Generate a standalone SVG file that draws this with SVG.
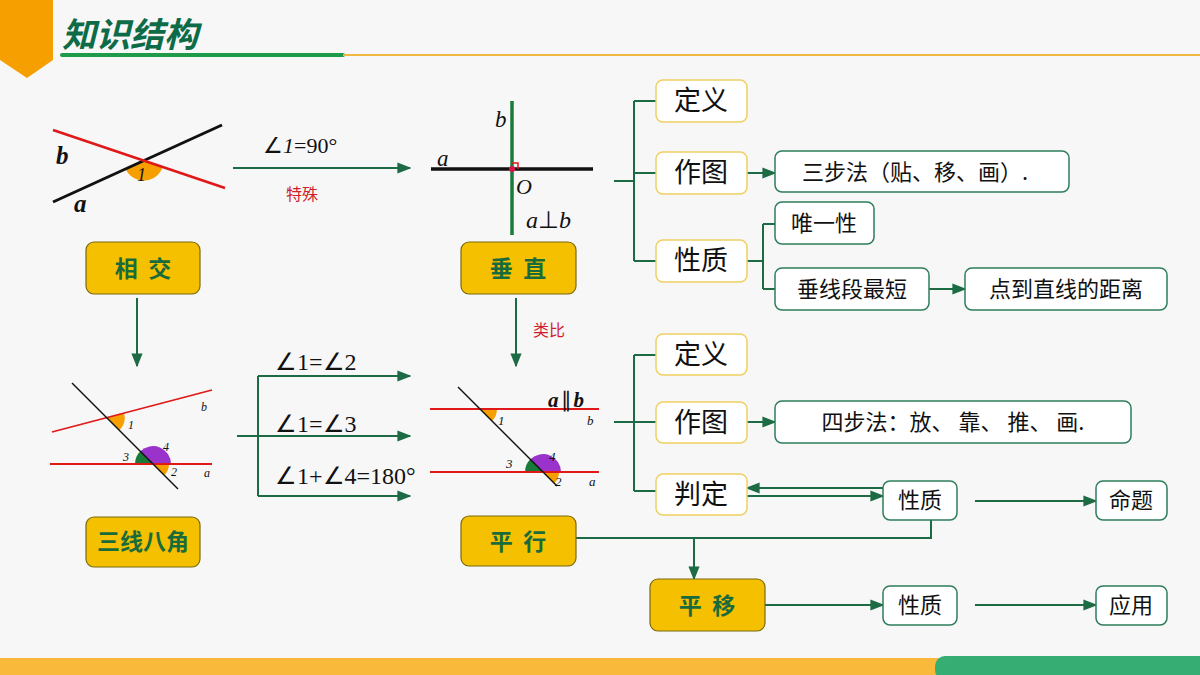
<svg xmlns="http://www.w3.org/2000/svg" width="1200" height="675" viewBox="0 0 1200 675">
<defs>
<marker id="ar" viewBox="0 0 10 10" refX="9" refY="5" markerWidth="7" markerHeight="7" orient="auto-start-reverse"><path d="M0,1 L10,5 L0,9 z" fill="#1d6b45"/></marker>
<style>
.cn{font-family:"Noto Sans CJK SC",sans-serif}
.yn{fill:#f5c000;stroke:#7a6a10;stroke-width:1.2}
.yt{font-family:"Noto Sans CJK SC",sans-serif;font-weight:bold;font-size:23px;fill:#1a6b3c;text-anchor:middle}
.ln{fill:#fff;stroke:#f0d060;stroke-width:1.5}
.gn{fill:#fff;stroke:#2e7d5b;stroke-width:1.5}
.nt{font-family:"Noto Sans CJK SC",sans-serif;font-size:27px;fill:#111;text-anchor:middle}
.st{font-family:"Noto Sans CJK SC",sans-serif;font-size:22px;fill:#111;text-anchor:middle}
.c{fill:none;stroke:#1d6b45;stroke-width:2}
.m{font-family:"Liberation Serif",serif;fill:#111}
.red{font-family:"Noto Sans CJK SC",serif;font-size:16px;fill:#d0202a}
</style>
</defs>
<rect width="1200" height="675" fill="#f7f7f7"/>
<path d="M0,0 H53 V60 L27,78 L0,60 Z" fill="#f5a000"/>
<text x="62" y="47" class="cn" font-size="34" font-weight="bold" font-style="italic" fill="#0e6b47">知识结构</text>
<rect x="60" y="53" width="285" height="4" rx="2" fill="#1f9a48"/>
<rect x="343" y="54" width="857" height="2" fill="#f0b840"/>
<rect x="0" y="658" width="960" height="17" fill="#f9b93a"/>
<rect x="935" y="656" width="300" height="24" rx="10" fill="#36ad73"/>

<g id="connectors">
<path class="c" d="M233,168 H410" marker-end="url(#ar)"/>
<path class="c" d="M137,298 V366" marker-end="url(#ar)"/>
<path class="c" d="M516,298 V366" marker-end="url(#ar)"/>
<path class="c" d="M237,436 H258 M258,376 V496"/>
<path class="c" d="M258,376 H410" marker-end="url(#ar)"/>
<path class="c" d="M258,436 H410" marker-end="url(#ar)"/>
<path class="c" d="M258,496 H410" marker-end="url(#ar)"/>
<path class="c" d="M614,181 H634 M634,101 V261 M634,101 H656 M634,173 H656 M634,261 H656"/>
<path class="c" d="M747,173 H775" marker-end="url(#ar)"/>
<path class="c" d="M747,261 H763 M763,224 V289 M763,224 H775 M763,289 H775"/>
<path class="c" d="M929,289 H965" marker-end="url(#ar)"/>
<path class="c" d="M614,422 H634 M634,355 V491 M634,355 H656 M634,422 H656 M634,491 H656"/>
<path class="c" d="M747,422 H775" marker-end="url(#ar)"/>
<path class="c" d="M883,488 H747" marker-end="url(#ar)"/>
<path class="c" d="M747,496 H883" marker-end="url(#ar)"/>
<path class="c" d="M975,501 H1096" marker-end="url(#ar)"/>
<path class="c" d="M931,520 V538 H576"/>
<path class="c" d="M694,538 V579" marker-end="url(#ar)"/>
<path class="c" d="M765,605 H883" marker-end="url(#ar)"/>
<path class="c" d="M975,605 H1096" marker-end="url(#ar)"/>
</g>
<text x="263" y="153" class="m" font-size="22">∠<tspan font-style="italic">1</tspan>=90°</text>
<text x="286" y="200" class="red">特殊</text>
<text x="533" y="336" class="red">类比</text>
<text x="275" y="370" class="m" font-size="24">∠1=∠2</text>
<text x="275" y="432" class="m" font-size="24">∠1=∠3</text>
<text x="275" y="484" class="m" font-size="24">∠1+∠4=180°</text>

<g id="fig1">
<path d="M143.8,160.6 L125.6,168.9 A20,20 0 0 0 162.7,167 Z" fill="#f5a000"/>
<line x1="53" y1="202" x2="222" y2="125" stroke="#111" stroke-width="3"/>
<line x1="53" y1="130" x2="225" y2="188" stroke="#e01818" stroke-width="2.5"/>
<text x="137" y="181" class="m" font-size="18" font-style="italic">1</text>
<text x="56" y="164" class="m" font-size="25" font-style="italic" font-weight="bold">b</text>
<text x="74" y="212" class="m" font-size="25" font-style="italic" font-weight="bold">a</text>
</g>
<g id="fig2">
<line x1="431" y1="169" x2="593" y2="169" stroke="#111" stroke-width="3.5"/>
<line x1="512" y1="101" x2="512" y2="235" stroke="#1a7a3a" stroke-width="3.5"/>
<path d="M512,163 H518 V169" fill="none" stroke="#e01818" stroke-width="1.5"/>
<circle cx="512" cy="169" r="3" fill="#e0104a"/>
<text x="495" y="127" class="m" font-size="23" font-style="italic">b</text>
<text x="437" y="166" class="m" font-size="23" font-style="italic">a</text>
<text x="516" y="194" class="m" font-size="22" font-style="italic">O</text>
<text x="526" y="228" class="m" font-size="24"><tspan font-style="italic">a</tspan>⊥<tspan font-style="italic">b</tspan></text>
</g>
<g id="fig3">
<path d="M106.7,417.7 L124.1,413.1 A18,18 0 0 1 119.4,430.4 Z" fill="#f5a000"/>
<path d="M153,464 L135,464 A18,18 0 0 1 140.3,451.3 Z" fill="#1a7a3a"/>
<path d="M153,464 L140.3,451.3 A18,18 0 0 1 171,464 Z" fill="#9933cc"/>
<path d="M153,464 L169,464 A16,16 0 0 1 164.3,475.3 Z" fill="#f5a000"/>
<line x1="52" y1="432" x2="212" y2="390" stroke="#e01818" stroke-width="1.8"/>
<line x1="50" y1="464" x2="212" y2="464" stroke="#e01818" stroke-width="1.8"/>
<line x1="72" y1="383" x2="178" y2="489" stroke="#111" stroke-width="1.5"/>
<g class="m" font-size="12" font-style="italic">
<text x="201" y="411">b</text><text x="204" y="477">a</text><text x="128" y="429">1</text>
<text x="163" y="451">4</text><text x="123" y="461">3</text><text x="171" y="476">2</text></g>
</g>
<g id="fig4">
<path d="M480,409 L497,409 A17,17 0 0 1 492,421 Z" fill="#f5a000"/>
<path d="M543,472 L525,472 A18,18 0 0 1 530.3,459.3 Z" fill="#1a7a3a"/>
<path d="M543,472 L530.3,459.3 A18,18 0 0 1 561,472 Z" fill="#9933cc"/>
<path d="M543,472 L559,472 A16,16 0 0 1 554.3,483.3 Z" fill="#f5a000"/>
<line x1="430" y1="409" x2="599" y2="409" stroke="#e01818" stroke-width="1.8"/>
<line x1="430" y1="472" x2="599" y2="472" stroke="#e01818" stroke-width="1.8"/>
<line x1="458" y1="387" x2="557" y2="486" stroke="#111" stroke-width="1.5"/>
<text x="548" y="407" class="m" font-size="21" font-style="italic" font-weight="bold">a<tspan dx="2" font-style="normal" font-weight="normal">∥</tspan><tspan dx="2">b</tspan></text>
<g class="m" font-size="13" font-style="italic">
<text x="587" y="425">b</text><text x="589" y="486">a</text><text x="498" y="425">1</text>
<text x="549" y="461">4</text><text x="506" y="468">3</text><text x="555" y="486">2</text></g>
</g>

<g id="n-xiangjiao"><rect class="yn" x="86" y="242" width="114" height="52" rx="8"/><text class="yt" x="143" y="277" xml:space="preserve">相  交</text></g>
<g id="n-chuizhi"><rect class="yn" x="461" y="242" width="115" height="52" rx="8"/><text class="yt" x="518" y="277" xml:space="preserve">垂  直</text></g>
<g id="n-sanxian"><rect class="yn" x="86" y="517" width="114" height="50" rx="8"/><text class="yt" x="143" y="550" font-size="21">三线八角</text></g>
<g id="n-pingxing"><rect class="yn" x="461" y="516" width="115" height="50" rx="8"/><text class="yt" x="518" y="550" xml:space="preserve">平  行</text></g>
<g id="n-pingyi"><rect class="yn" x="650" y="579" width="115" height="52" rx="8"/><text class="yt" x="707" y="614" xml:space="preserve">平  移</text></g>

<g id="n-dy1"><rect class="ln" x="656" y="80" width="91" height="42" rx="7"/><text class="nt" x="701" y="110">定义</text></g>
<g id="n-zt1"><rect class="ln" x="656" y="152" width="91" height="42" rx="7"/><text class="nt" x="701" y="182">作图</text></g>
<g id="n-xz1"><rect class="ln" x="656" y="240" width="91" height="42" rx="7"/><text class="nt" x="701" y="270">性质</text></g>
<g id="n-dy2"><rect class="ln" x="656" y="334" width="91" height="41" rx="7"/><text class="nt" x="701" y="364">定义</text></g>
<g id="n-zt2"><rect class="ln" x="656" y="402" width="91" height="41" rx="7"/><text class="nt" x="701" y="432">作图</text></g>
<g id="n-pd"><rect class="ln" x="656" y="474" width="91" height="41" rx="7"/><text class="nt" x="701" y="504">判定</text></g>

<g id="n-sbf"><rect class="gn" x="775" y="151" width="294" height="41" rx="7"/><text class="st" x="915" y="180">三步法（贴、移、画）.</text></g>
<g id="n-wyx"><rect class="gn" x="775" y="202" width="99" height="42" rx="7"/><text class="st" x="824" y="231">唯一性</text></g>
<g id="n-cxd"><rect class="gn" x="775" y="268" width="154" height="42" rx="7"/><text class="st" x="852" y="297">垂线段最短</text></g>
<g id="n-dzj"><rect class="gn" x="965" y="268" width="202" height="42" rx="7"/><text class="st" x="1066" y="297">点到直线的距离</text></g>
<g id="n-sibf"><rect class="gn" x="775" y="401" width="356" height="42" rx="7"/><text class="st" x="953" y="430">四步法：放、 靠、 推、 画.</text></g>
<g id="n-xz2"><rect class="gn" x="883" y="481" width="74" height="39" rx="7"/><text class="st" x="920" y="508">性质</text></g>
<g id="n-mt"><rect class="gn" x="1096" y="481" width="71" height="39" rx="7"/><text class="st" x="1131" y="508">命题</text></g>
<g id="n-xz3"><rect class="gn" x="883" y="586" width="74" height="39" rx="7"/><text class="st" x="920" y="613">性质</text></g>
<g id="n-yy"><rect class="gn" x="1096" y="586" width="71" height="39" rx="7"/><text class="st" x="1131" y="613">应用</text></g>
</svg>
